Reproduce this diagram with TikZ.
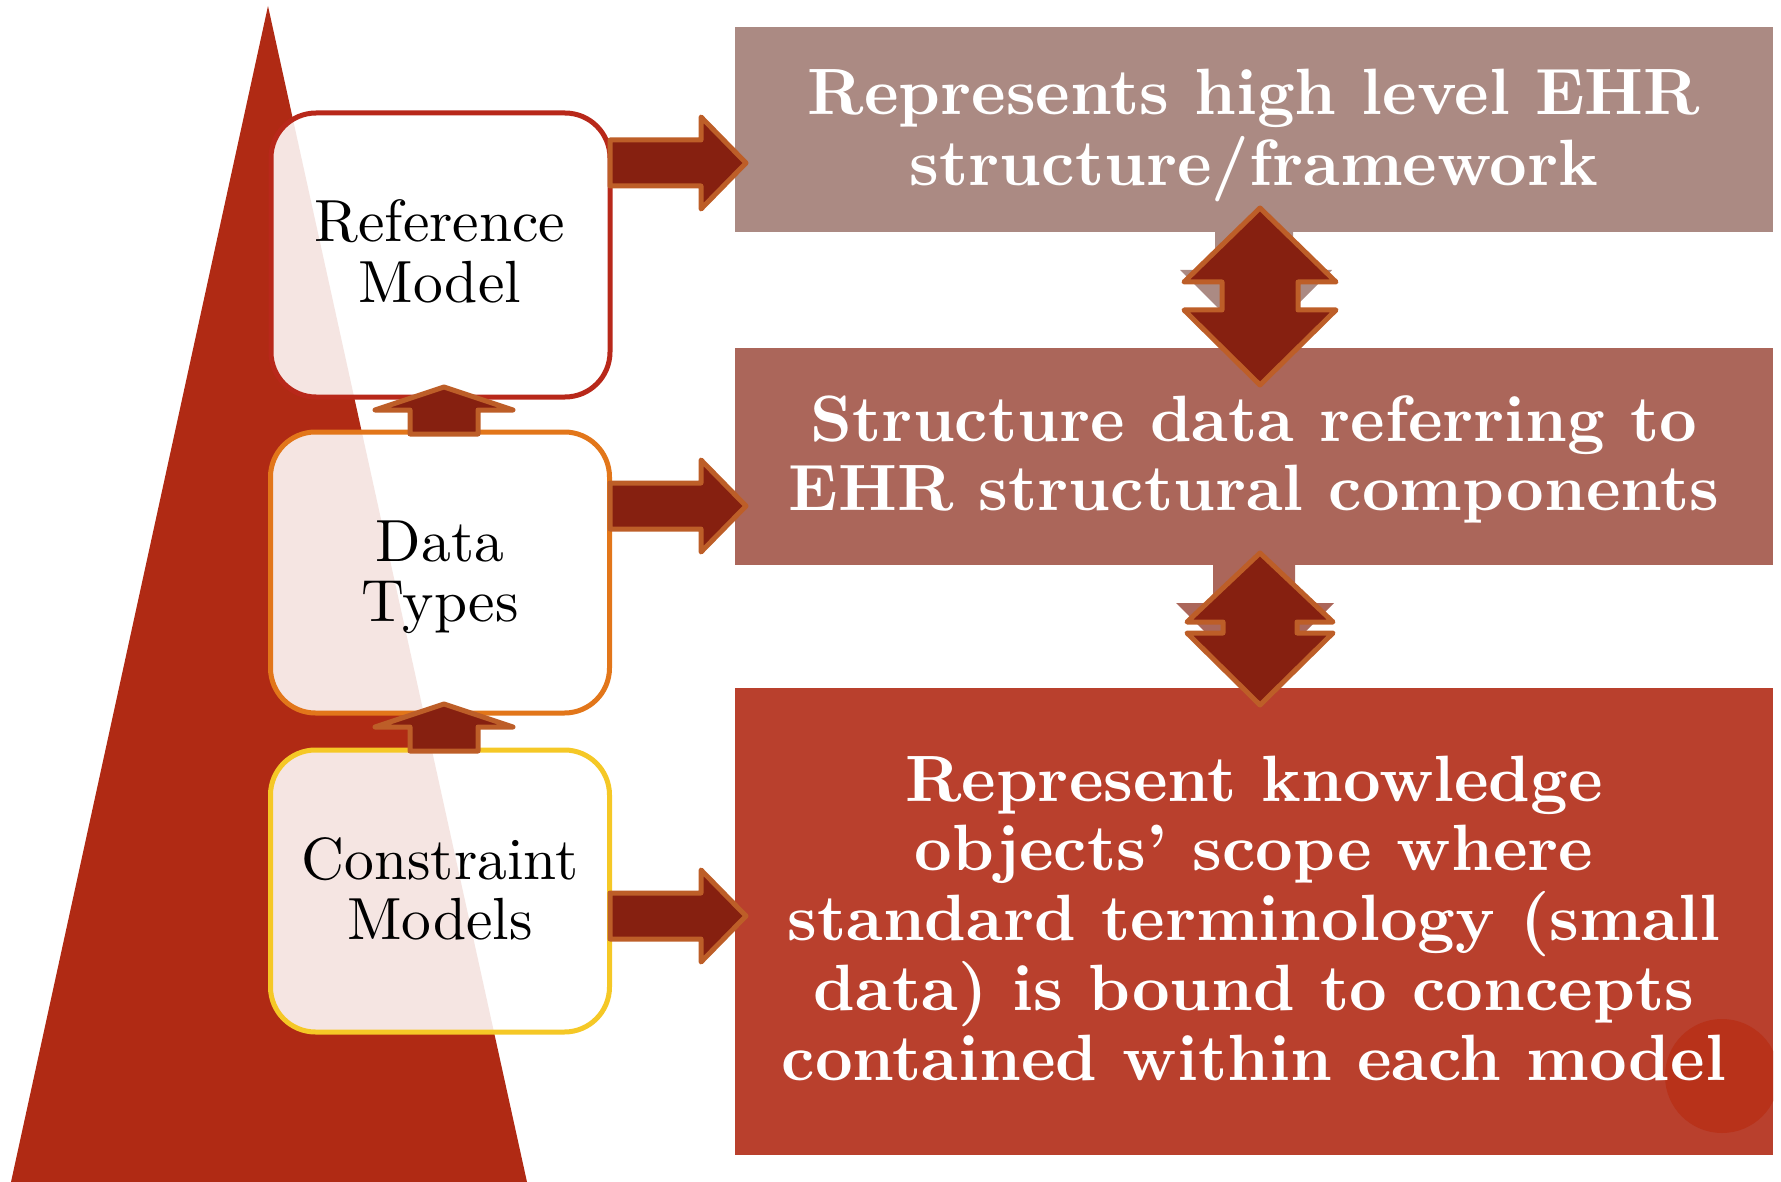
\documentclass[tikz,border=0pt]{standalone}
\usepackage{graphicx}
\definecolor{tri}{HTML}{B02A14}
\definecolor{boxred}{HTML}{B8281A}
\definecolor{boxorange}{HTML}{E2761A}
\definecolor{boxyellow}{HTML}{F5C826}
\definecolor{rectA}{HTML}{AB8A83}
\definecolor{rectB}{HTML}{AB665A}
\definecolor{rectC}{HTML}{B9402D}
\definecolor{arrfill}{HTML}{862010}
\definecolor{arrline}{HTML}{BD5E28}
\definecolor{dotc}{HTML}{B8321A}
\newcommand{\boxtext}[1]{\fontsize{10}{10.1}\selectfont\scalebox{5.95}{\begin{tabular}[t]{@{}c@{}}#1\end{tabular}}}
\newcommand{\paneltext}[1]{\fontsize{10}{10.65}\selectfont\bfseries\scalebox{6.55}{\begin{tabular}[t]{@{}c@{}}#1\end{tabular}}}
\tikzset{
  modelbox/.style={draw, line width=5, fill=white, fill opacity=0.88,
    rounded corners=45, minimum width=339, minimum height=282, inner sep=0},
  infobox/.style={fill, inner sep=0, minimum width=1038},
  boxlabel/.style={anchor=base, inner sep=0, text=black},
  panellabel/.style={anchor=base, inner sep=0, text=white},
  blockarrow/.style={fill=arrfill, draw=arrline, line width=5, line join=round},
}
\begin{document}
\begin{tikzpicture}[x=1pt,y=-1pt]
\useasboundingbox (0,0) rectangle (1781,1182);
% pyramid
\fill[tri] (268,6) -- (527,1182) -- (11,1182) -- cycle;
% model boxes
\node[modelbox, draw=boxred, minimum height=284] (rm) at (440.5,255) {};
\node[modelbox, draw=boxorange, minimum height=281] (dt) at (440,572.5) {};
\node[modelbox, draw=boxyellow, minimum height=282] (cm) at (440,891) {};
\node[boxlabel] (rmt) at (440,242) {\boxtext{Reference\\Model}};
\node[boxlabel] (dtt) at (440,561) {\boxtext{Data\\Types}};
\node[boxlabel] (cmt) at (440,879) {\boxtext{Constraint\\Models}};
% right panels
\node[infobox, fill=rectA, minimum height=205] (r1) at (1254,129.5) {};
\node[infobox, fill=rectB, minimum height=217] (r2) at (1254,456.5) {};
\begin{scope}
\node[infobox, fill=rectC, minimum height=467] (r3) at (1254,921.5) {};
\clip (r3.north west) rectangle (r3.south east);
\fill[dotc] (1722,1076) circle[radius=57];
\end{scope}
\node[panellabel] (t1) at (1254,115) {\paneltext{Represents high level EHR\\structure/framework}};
\node[panellabel] (t2) at (1254,441) {\paneltext{Structure data referring to\\EHR structural components}};
\node[panellabel] (t3) at (1254,801)
  {\paneltext{Represent knowledge\\objects’ scope where\\standard terminology (small\\data) is bound to concepts\\contained within each model}};
% up arrows between boxes
\foreach \t in {387,704}{
  \draw[blockarrow] (444,\t) -- (513,\t+23) -- (478,\t+23) -- (478,\t+47) -- (410,\t+47)
    -- (410,\t+23) -- (375,\t+23) -- cycle;
}
% right arrows
\foreach \c in {163,506,916}{
  \draw[blockarrow] (610,\c-23) -- (701,\c-23) -- (701,\c-46) -- (746,\c) -- (701,\c+46)
    -- (701,\c+23) -- (610,\c+23) -- cycle;
}
% shadows of connectors between panels
\fill[rectA] (1215,232) -- (1293,232) -- (1293,270) -- (1332,270) -- (1256,346) -- (1180,270)
  -- (1215,270) -- cycle;
\fill[rectB] (1213,565) -- (1295,565) -- (1295,603) -- (1334,603) -- (1255,682) -- (1176,603)
  -- (1213,603) -- cycle;
% double arrows
\draw[blockarrow] (1260,208) -- (1336,282) -- (1298,282) -- (1298,310) -- (1336,310) -- (1260,385)
  -- (1184,310) -- (1222,310) -- (1222,282) -- (1184,282) -- cycle;
\draw[blockarrow] (1260,553) -- (1333,622) -- (1297,622) -- (1297,633) -- (1333,633) -- (1260,705)
  -- (1187,633) -- (1223,633) -- (1223,622) -- (1187,622) -- cycle;
\end{tikzpicture}
\end{document}
